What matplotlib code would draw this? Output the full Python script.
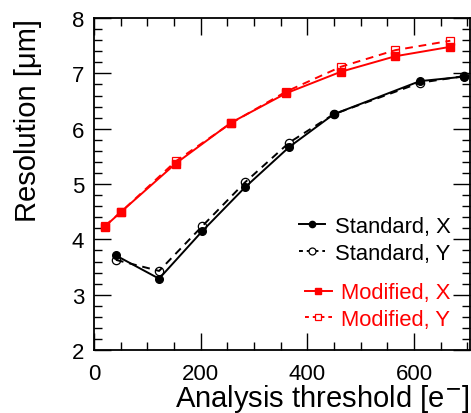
import matplotlib
matplotlib.use("Agg")
import matplotlib.pyplot as plt
from matplotlib.ticker import MultipleLocator
from matplotlib.lines import Line2D

plt.rcParams['font.family'] = ['Liberation Sans', 'DejaVu Sans']

std_x = [41, 122, 203, 283, 366, 449, 611, 693]
std_resX = [3.71, 3.29, 4.15, 4.94, 5.67, 6.26, 6.86, 6.94]
std_resY = [3.63, 3.43, 4.24, 5.03, 5.75, 6.26, 6.83, 6.95]

mod_x = [20, 51, 153, 257, 360, 463, 565, 668]
mod_resX = [4.23, 4.50, 5.37, 6.11, 6.64, 7.03, 7.31, 7.48]
mod_resY = [4.24, 4.50, 5.41, 6.10, 6.67, 7.12, 7.42, 7.59]

labels = ["Standard, X", "Standard, Y", "Modified, X", "Modified, Y"]

fig = plt.figure(figsize=(4.71, 4.14), dpi=100)
ax = fig.add_axes([0.1996, 0.152, 0.7984, 0.802])

lw = 1.4
ax.plot(std_x, std_resX, '-', color='black', lw=lw, marker='o', ms=5.5, mfc='black', mec='black')
ax.plot(std_x, std_resY, '--', color='black', lw=lw, dashes=(4, 3), marker='o', ms=6, mfc='none', mec='black', mew=0.9)
ax.plot(mod_x, mod_resX, '-', color='red', lw=lw, marker='s', ms=5.5, mfc='red', mec='red')
ax.plot(mod_x, mod_resY, '--', color='red', lw=lw, dashes=(4, 3), marker='s', ms=6, mfc='none', mec='red', mew=0.9)

ax.set_xlim(0, 705)
ax.set_ylim(2, 8)
ax.xaxis.set_major_locator(MultipleLocator(200))
ax.xaxis.set_minor_locator(MultipleLocator(50))
ax.yaxis.set_major_locator(MultipleLocator(1))
ax.yaxis.set_minor_locator(MultipleLocator(0.2))
ax.tick_params(which='both', direction='in', top=True, right=True, width=1.0, labelsize=16)
ax.tick_params(which='major', length=12)
ax.tick_params(which='minor', length=6)
ax.tick_params(axis='x', pad=9)
ax.tick_params(axis='y', pad=7)
for s in ax.spines.values():
    s.set_linewidth(1.3)

ax.set_xlabel("Analysis threshold [e$^{-}$]", fontsize=21, loc='right')
ax.xaxis.set_label_coords(1.0, -0.097)
ax.set_ylabel("Resolution [μm]", fontsize=21, loc='top')
ax.yaxis.set_label_coords(-0.138, 1.0)

h1 = [Line2D([], [], color='black', lw=lw, marker='o', ms=4.5, mfc='black'),
      Line2D([], [], color='black', lw=lw, ls='--', dashes=(2, 2), marker='o', ms=5, mfc='white', mew=0.9)]
h2 = [Line2D([], [], color='red', lw=lw, marker='s', ms=4.5, mfc='red'),
      Line2D([], [], color='red', lw=lw, ls='--', dashes=(2, 2), marker='s', ms=5, mfc='white', mew=0.9)]
leg1 = ax.legend(h1, labels[:2], loc='upper right', bbox_to_anchor=(0.972, 0.43), frameon=False,
                 fontsize=15.8, handlelength=1.2, handletextpad=0.45, labelspacing=0.25, borderaxespad=0)
for t in leg1.get_texts():
    t.set_color('black')
ax.add_artist(leg1)
leg2 = ax.legend(h2, labels[2:], loc='upper right', bbox_to_anchor=(0.972, 0.23), frameon=False,
                 fontsize=15.8, handlelength=1.2, handletextpad=0.45, labelspacing=0.25, borderaxespad=0)
for t in leg2.get_texts():
    t.set_color('red')

fig.savefig("out.png", dpi=100)
